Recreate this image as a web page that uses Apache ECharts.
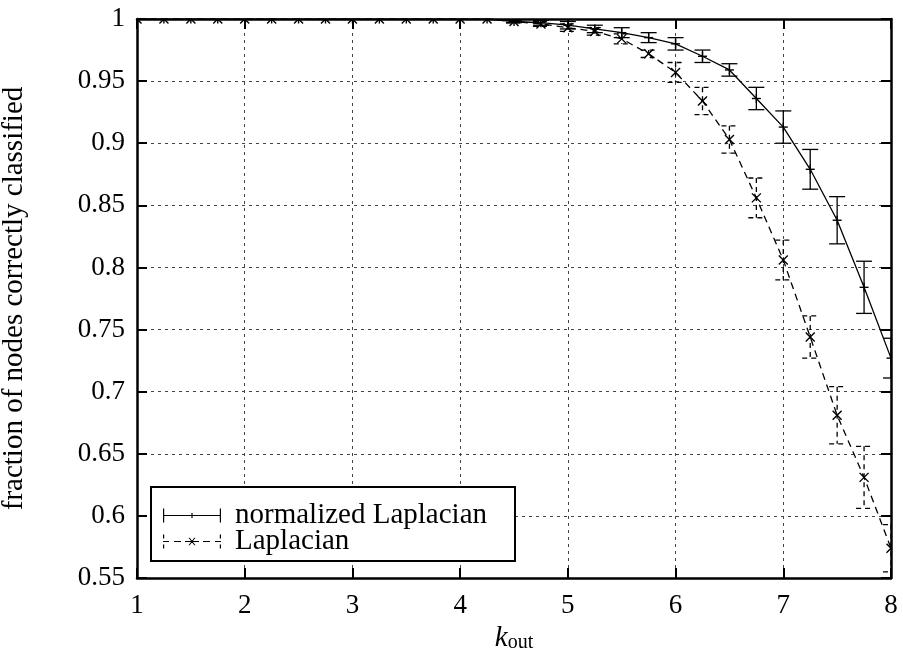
<!DOCTYPE html>
<html><head><meta charset="utf-8">
<script src="https://cdn.jsdelivr.net/npm/echarts/dist/echarts.min.js"></script>
<style>html,body{margin:0;padding:0;background:#fff}#c{width:903px;height:655px}</style>
</head><body><div id="c"></div>
<script>
const kOut     = [1,1.25,1.5,1.75,2,2.25,2.5,2.75,3,3.25,3.5,3.75,4,4.25,4.5,4.75,5,5.25,5.5,5.75,6,6.25,6.5,6.75,7,7.25,7.5,7.75,8];
const normMean = [1,1,1,1,1,1,1,1,1,1,1,1,1,1,0.998,0.997,0.995,0.992,0.989,0.985,0.980,0.970,0.959,0.936,0.913,0.879,0.838,0.784,0.727];
const normErr  = [0,0,0,0,0,0,0,0,0,0,0,0,0,0,0.001,0.002,0.003,0.003,0.004,0.004,0.005,0.005,0.005,0.009,0.013,0.016,0.019,0.021,0.016];
const lapMean  = [1,1,1,1,1,1,1,1,1,1,1,1,1,1,0.998,0.996,0.993,0.990,0.984,0.972,0.957,0.934,0.903,0.856,0.806,0.744,0.681,0.631,0.574];
const lapErr   = [0,0,0,0,0,0,0,0,0,0,0,0,0,0,0.001,0.002,0.003,0.003,0.004,0.003,0.008,0.011,0.011,0.016,0.016,0.017,0.023,0.025,0.019];
const seriesNames = ['normalized Laplacian','Laplacian'];
const xName = 'k', xSub = 'out';
const yName = 'fraction of nodes correctly classified';

const FONT = '"Liberation Serif", "DejaVu Serif", serif';
const chart = echarts.init(document.getElementById('c'));

function errRender(kind){
  return function(params, api){
    const x=api.value(0), y=api.value(1), e=api.value(2);
    const p=api.coord([x,y]), t=api.coord([x,y+e]), b=api.coord([x,y-e]);
    const dash = kind==='lap' ? [5,4] : null;
    const st={stroke:'#000', lineWidth:1.3, lineDash:dash, fill:null};
    const cw=8, m=4.5;
    const ch=[
      {type:'line', shape:{x1:p[0],y1:t[1],x2:p[0],y2:b[1]}, style:st},
      {type:'line', shape:{x1:p[0]-cw,y1:t[1],x2:p[0]+cw,y2:t[1]}, style:st},
      {type:'line', shape:{x1:p[0]-cw,y1:b[1],x2:p[0]+cw,y2:b[1]}, style:st}
    ];
    const ms={stroke:'#000', lineWidth:1.4, fill:null};
    if(kind==='norm'){
      ch.push({type:'line', shape:{x1:p[0]-m,y1:p[1],x2:p[0]+m,y2:p[1]}, style:ms});
      ch.push({type:'line', shape:{x1:p[0],y1:p[1]-m,x2:p[0],y2:p[1]+m}, style:ms});
    } else {
      ch.push({type:'line', shape:{x1:p[0]-m,y1:p[1]-m,x2:p[0]+m,y2:p[1]+m}, style:ms});
      ch.push({type:'line', shape:{x1:p[0]-m,y1:p[1]+m,x2:p[0]+m,y2:p[1]-m}, style:ms});
    }
    return {type:'group', children:ch};
  };
}

const normIcon = 'path://M0 0h1.2v14h-1.2z M56.8 0h1.2v14h-1.2z M0 6.4h58v1.2h-58z M28.4 4.5h1.2v5h-1.2z';
const lapIcon = 'path://M0 0h1.2v4h-1.2z M0 10h1.2v4h-1.2z M56.8 0h1.2v4h-1.2z M56.8 10h1.2v4h-1.2z ' +
  'M0 6.4h6v1.2h-6z M11 6.4h7v1.2h-7z M22 6.4h14v1.2h-14z M40 6.4h7v1.2h-7z M52 6.4h6v1.2h-6z ' +
  'M25.5 3.2L26.7 3.2L32.5 10.8L31.3 10.8z M31.3 3.2L32.5 3.2L26.7 10.8L25.5 10.8z';

const axisCommonX = {
  type:'value', min:1, max:8, interval:1,
  axisLine:{show:true, onZero:false, lineStyle:{color:'#000', width:2.5}},
  axisTick:{show:true, inside:true, length:10, lineStyle:{color:'#000', width:2}},
  splitLine:{show:false}
};
const axisCommonY = {
  type:'value', min:0.55, max:1, interval:0.05,
  axisLine:{show:true, onZero:false, lineStyle:{color:'#000', width:2.5}},
  axisTick:{show:true, inside:true, length:10, lineStyle:{color:'#000', width:2}},
  splitLine:{show:false}
};

chart.setOption({
  backgroundColor:'#fff',
  animation:false,
  grid:{left:137, right:12, top:19, bottom:77, containLabel:false, outerBoundsMode:'none'},
  xAxis:[
    Object.assign({}, axisCommonX, {
      position:'bottom',
      axisLabel:{show:true, margin:14, color:'#000', fontFamily:FONT, fontSize:27},
      splitLine:{show:true, lineStyle:{color:'#444', width:1, type:[3,4]}},
      name:'{k|'+xName+'}{s|'+xSub+'}', nameLocation:'middle', nameGap:42,
      nameTextStyle:{color:'#000', fontFamily:FONT,
        rich:{k:{fontFamily:FONT, fontStyle:'italic', fontSize:29, lineHeight:29, verticalAlign:'bottom', color:'#000'},
              s:{fontFamily:FONT, fontSize:20, lineHeight:10, verticalAlign:'bottom', color:'#000'}}}
    }),
    Object.assign({}, axisCommonX, {position:'top', axisLabel:{show:false}})
  ],
  yAxis:[
    Object.assign({}, axisCommonY, {
      position:'left',
      axisLabel:{show:true, margin:12, color:'#000', fontFamily:FONT, fontSize:27},
      splitLine:{show:true, lineStyle:{color:'#444', width:1, type:[3,4]}},
      name:yName, nameLocation:'middle', nameGap:108,
      nameTextStyle:{color:'#000', fontFamily:FONT, fontSize:29}
    }),
    Object.assign({}, axisCommonY, {position:'right', axisLabel:{show:false}})
  ],
  legend:{
    left:151, top:487, orient:'vertical',
    itemWidth:58, itemHeight:14, itemGap:-3, itemTextGap:14,
    padding:[14,28,5,12],
    borderColor:'#000', borderWidth:2, backgroundColor:'#fff',
    selectedMode:false,
    itemStyle:{color:'#000', borderWidth:0},
    textStyle:{color:'#000', fontFamily:FONT, fontSize:29, lineHeight:27, padding:[0,0,0,9]},
    data:[{name:seriesNames[0], icon:normIcon},{name:seriesNames[1], icon:lapIcon}]
  },
  series:[
    {type:'line', name:'normLine', data:kOut.map((x,i)=>[x,normMean[i]]), symbol:'none',
     lineStyle:{color:'#000', width:1.3, type:'solid'}, itemStyle:{color:'#000'}, clip:true, z:2},
    {type:'line', name:'lapLine', data:kOut.map((x,i)=>[x,lapMean[i]]), symbol:'none',
     lineStyle:{color:'#000', width:1.3, type:[7,5]}, itemStyle:{color:'#000'}, clip:true, z:2},
    {type:'custom', name:seriesNames[0], data:kOut.map((x,i)=>[x,normMean[i],normErr[i]]),
     renderItem:errRender('norm'), itemStyle:{color:'#000'}, clip:true, z:3, encode:{x:0,y:1}},
    {type:'custom', name:seriesNames[1], data:kOut.map((x,i)=>[x,lapMean[i],lapErr[i]]),
     renderItem:errRender('lap'), itemStyle:{color:'#000'}, clip:true, z:3, encode:{x:0,y:1}}
  ]
});
</script></body></html>
